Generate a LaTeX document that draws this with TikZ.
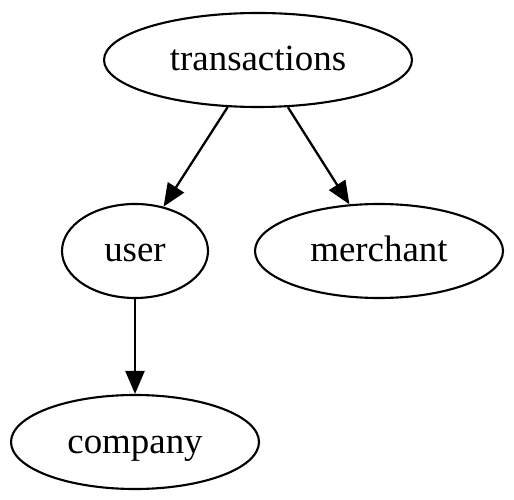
\documentclass[tikz,border=0pt]{standalone}
\usepackage{fontspec}
\setmainfont{Liberation Serif}
\usetikzlibrary{arrows.meta, shapes.geometric}
\tikzset{
    entity/.style={ellipse, draw, line width=1.2pt, inner sep=0pt, minimum height=1.88cm, text height=0.5cm, text depth=0.06cm, font=\fontsize{21}{25}\selectfont}, % 椭圆节点
    link/.style={line width=1.3pt, -{Triangle[length=0.46cm, width=0.38cm]}} % 有向边
}
\begin{document}
\begin{tikzpicture}
    \useasboundingbox (0,0) rectangle (10.28,-10);

    \node[entity, minimum width=6.16cm] (transactions) at (5.16,-1.20) {transactions};
    \node[entity, minimum width=2.92cm] (user) at (2.70,-5.02) {user};
    \node[entity, minimum width=4.96cm] (merchant) at (7.58,-5.02) {merchant};
    \node[entity, minimum width=4.96cm] (company) at (2.70,-8.84) {company};

    \draw[link] (transactions) -- (user);
    \draw[link] (transactions) -- (merchant);
    \draw[link] (user) -- (company);
\end{tikzpicture}
\end{document}
